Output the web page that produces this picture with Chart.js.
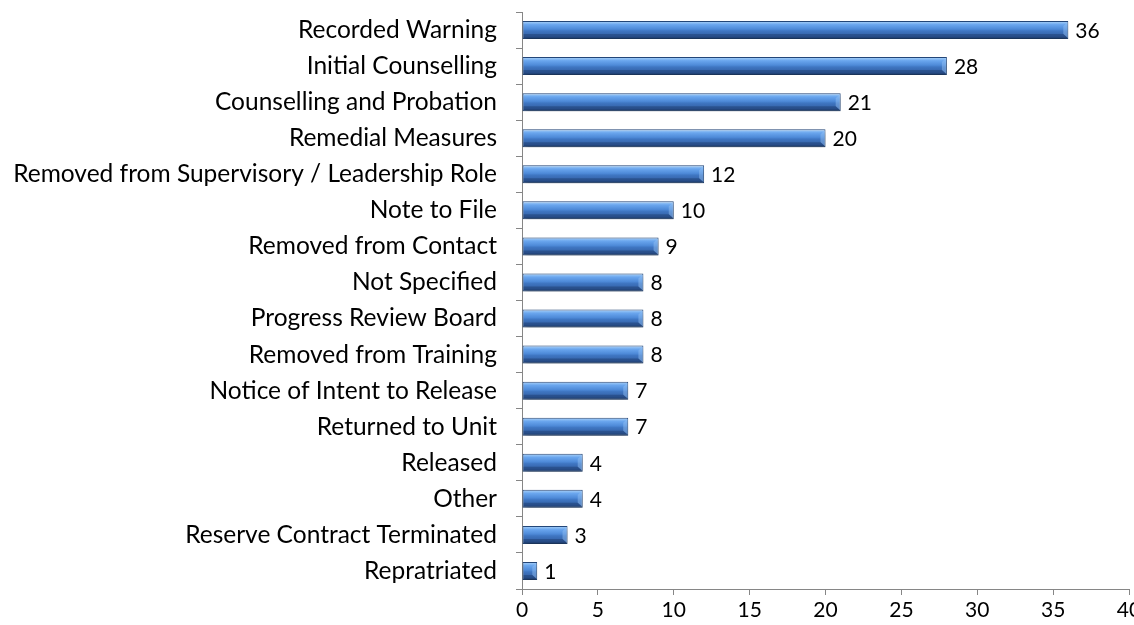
<!DOCTYPE html>
<html>
<head>
<meta charset="utf-8">
<script src="https://cdn.jsdelivr.net/npm/chart.js@4"></script>
<style>
  html, body { margin: 0; padding: 0; background: #fff; }
  #wrap { width: 1134px; height: 625px; }
</style>
</head>
<body>
<div id="wrap"><canvas id="chart" width="1134" height="625"></canvas></div>
<script>
const categories = [
  "Recorded Warning",
  "Initial Counselling",
  "Counselling and Probation",
  "Remedial Measures",
  "Removed from Supervisory / Leadership Role",
  "Note to File",
  "Removed from Contact",
  "Not Specified",
  "Progress Review Board",
  "Removed from Training",
  "Notice of Intent to Release",
  "Returned to Unit",
  "Released",
  "Other",
  "Reserve Contract Terminated",
  "Repratriated"
];
const counts = [36, 28, 21, 20, 12, 10, 9, 8, 8, 8, 7, 7, 4, 4, 3, 1];
const xTicks = [0, 5, 10, 15, 20, 25, 30, 35, 40];

const FONT = "Lato, 'Open Sans', sans-serif";
const BAR_PCT = 0.5;

// vertical gradient for each bar, placed from the category scale
function barFill(context) {
  const chart = context.chart;
  const yScale = chart.scales.y;
  if (!yScale || context.dataIndex === undefined) return '#4a86cf';
  const cy = yScale.getPixelForValue(context.dataIndex);
  const h = (yScale.height / categories.length) * BAR_PCT;
  if (!isFinite(cy) || !isFinite(h) || h <= 0) return '#4a86cf';
  const top = cy - h / 2;
  const g = chart.ctx.createLinearGradient(0, top, 0, top + h);
  g.addColorStop(0, '#d2e4f8');
  g.addColorStop(0.08, '#94c3f5');
  g.addColorStop(0.2, '#6aa6ee');
  g.addColorStop(0.45, '#4e8ad8');
  g.addColorStop(0.55, '#3f76c2');
  g.addColorStop(0.85, '#335fa3');
  g.addColorStop(1, '#1d3a66');
  return g;
}

// drop shadow under the bars, bevelled right end and the value labels
const barShadow = {
  id: 'barShadow',
  beforeDatasetsDraw(chart) {
    const c = chart.ctx;
    c.save();
    c.shadowColor = 'rgba(0,0,0,0.35)';
    c.shadowBlur = 5;
    c.shadowOffsetX = 1;
    c.shadowOffsetY = 3;
  },
  afterDatasetsDraw(chart) {
    chart.ctx.restore();
    const c = chart.ctx;
    const meta = chart.getDatasetMeta(0);
    c.save();
    meta.data.forEach((bar, i) => {
      const h = bar.height;
      const top = bar.y - h / 2;
      const x0 = bar.base, x1 = bar.x;
      const b = Math.min(5, (x1 - x0) / 3);
      // upper-right bevel facet
      c.fillStyle = 'rgba(150,195,245,0.45)';
      c.beginPath();
      c.moveTo(x1 - 0.5, top + 1);
      c.lineTo(x1 - b, top + b);
      c.lineTo(x1 - b, top + h - b);
      c.lineTo(x1 - 0.5, top + h - 1);
      c.closePath();
      c.fill();
      // lower-right shade
      c.fillStyle = 'rgba(20,45,90,0.35)';
      c.beginPath();
      c.moveTo(x1 - 0.5, top + h - 1);
      c.lineTo(x1 - b, top + h - b);
      c.lineTo(x0 + 1, top + h - b);
      c.lineTo(x0 + 1, top + h - 1);
      c.closePath();
      c.fill();
      // value label
      c.fillStyle = '#000';
      c.font = '21px ' + FONT;
      c.textAlign = 'left';
      c.textBaseline = 'middle';
      c.fillText(String(counts[i]), x1 + 7, bar.y + 1);
    });
    c.restore();
  }
};

new Chart(document.getElementById('chart'), {
  type: 'bar',
  data: {
    labels: categories,
    datasets: [{
      data: counts,
      backgroundColor: barFill,
      borderColor: '#24477a',
      borderWidth: 1,
      borderSkipped: false,
      barPercentage: BAR_PCT,
      categoryPercentage: 1.0
    }]
  },
  options: {
    indexAxis: 'y',
    responsive: false,
    animation: false,
    layout: { padding: { top: 12, right: 5, left: 0, bottom: 0 } },
    plugins: {
      legend: { display: false },
      tooltip: { enabled: false }
    },
    scales: {
      x: {
        min: 0,
        max: 40,
        afterBuildTicks: (scale) => { scale.ticks = xTicks.map(v => ({ value: v })); },
        afterFit: (scale) => { scale.height = 36; scale.paddingLeft = 0; scale.paddingRight = 0; },
        grid: { drawOnChartArea: false, drawTicks: true, tickLength: 6, color: '#868686' },
        border: { color: '#868686', width: 1 },
        ticks: { color: '#000', font: { family: FONT, size: 21 }, padding: 3, maxRotation: 0 }
      },
      y: {
        afterFit: (scale) => { scale.width = 522; scale.paddingTop = 0; scale.paddingBottom = 0; },
        grid: { drawOnChartArea: false, drawTicks: true, tickLength: 6, color: '#868686', offset: true },
        border: { color: '#868686', width: 1 },
        ticks: { color: '#000', font: { family: FONT, size: 24.5 }, padding: 19, autoSkip: false }
      }
    }
  },
  plugins: [barShadow]
});
</script>
</body>
</html>
